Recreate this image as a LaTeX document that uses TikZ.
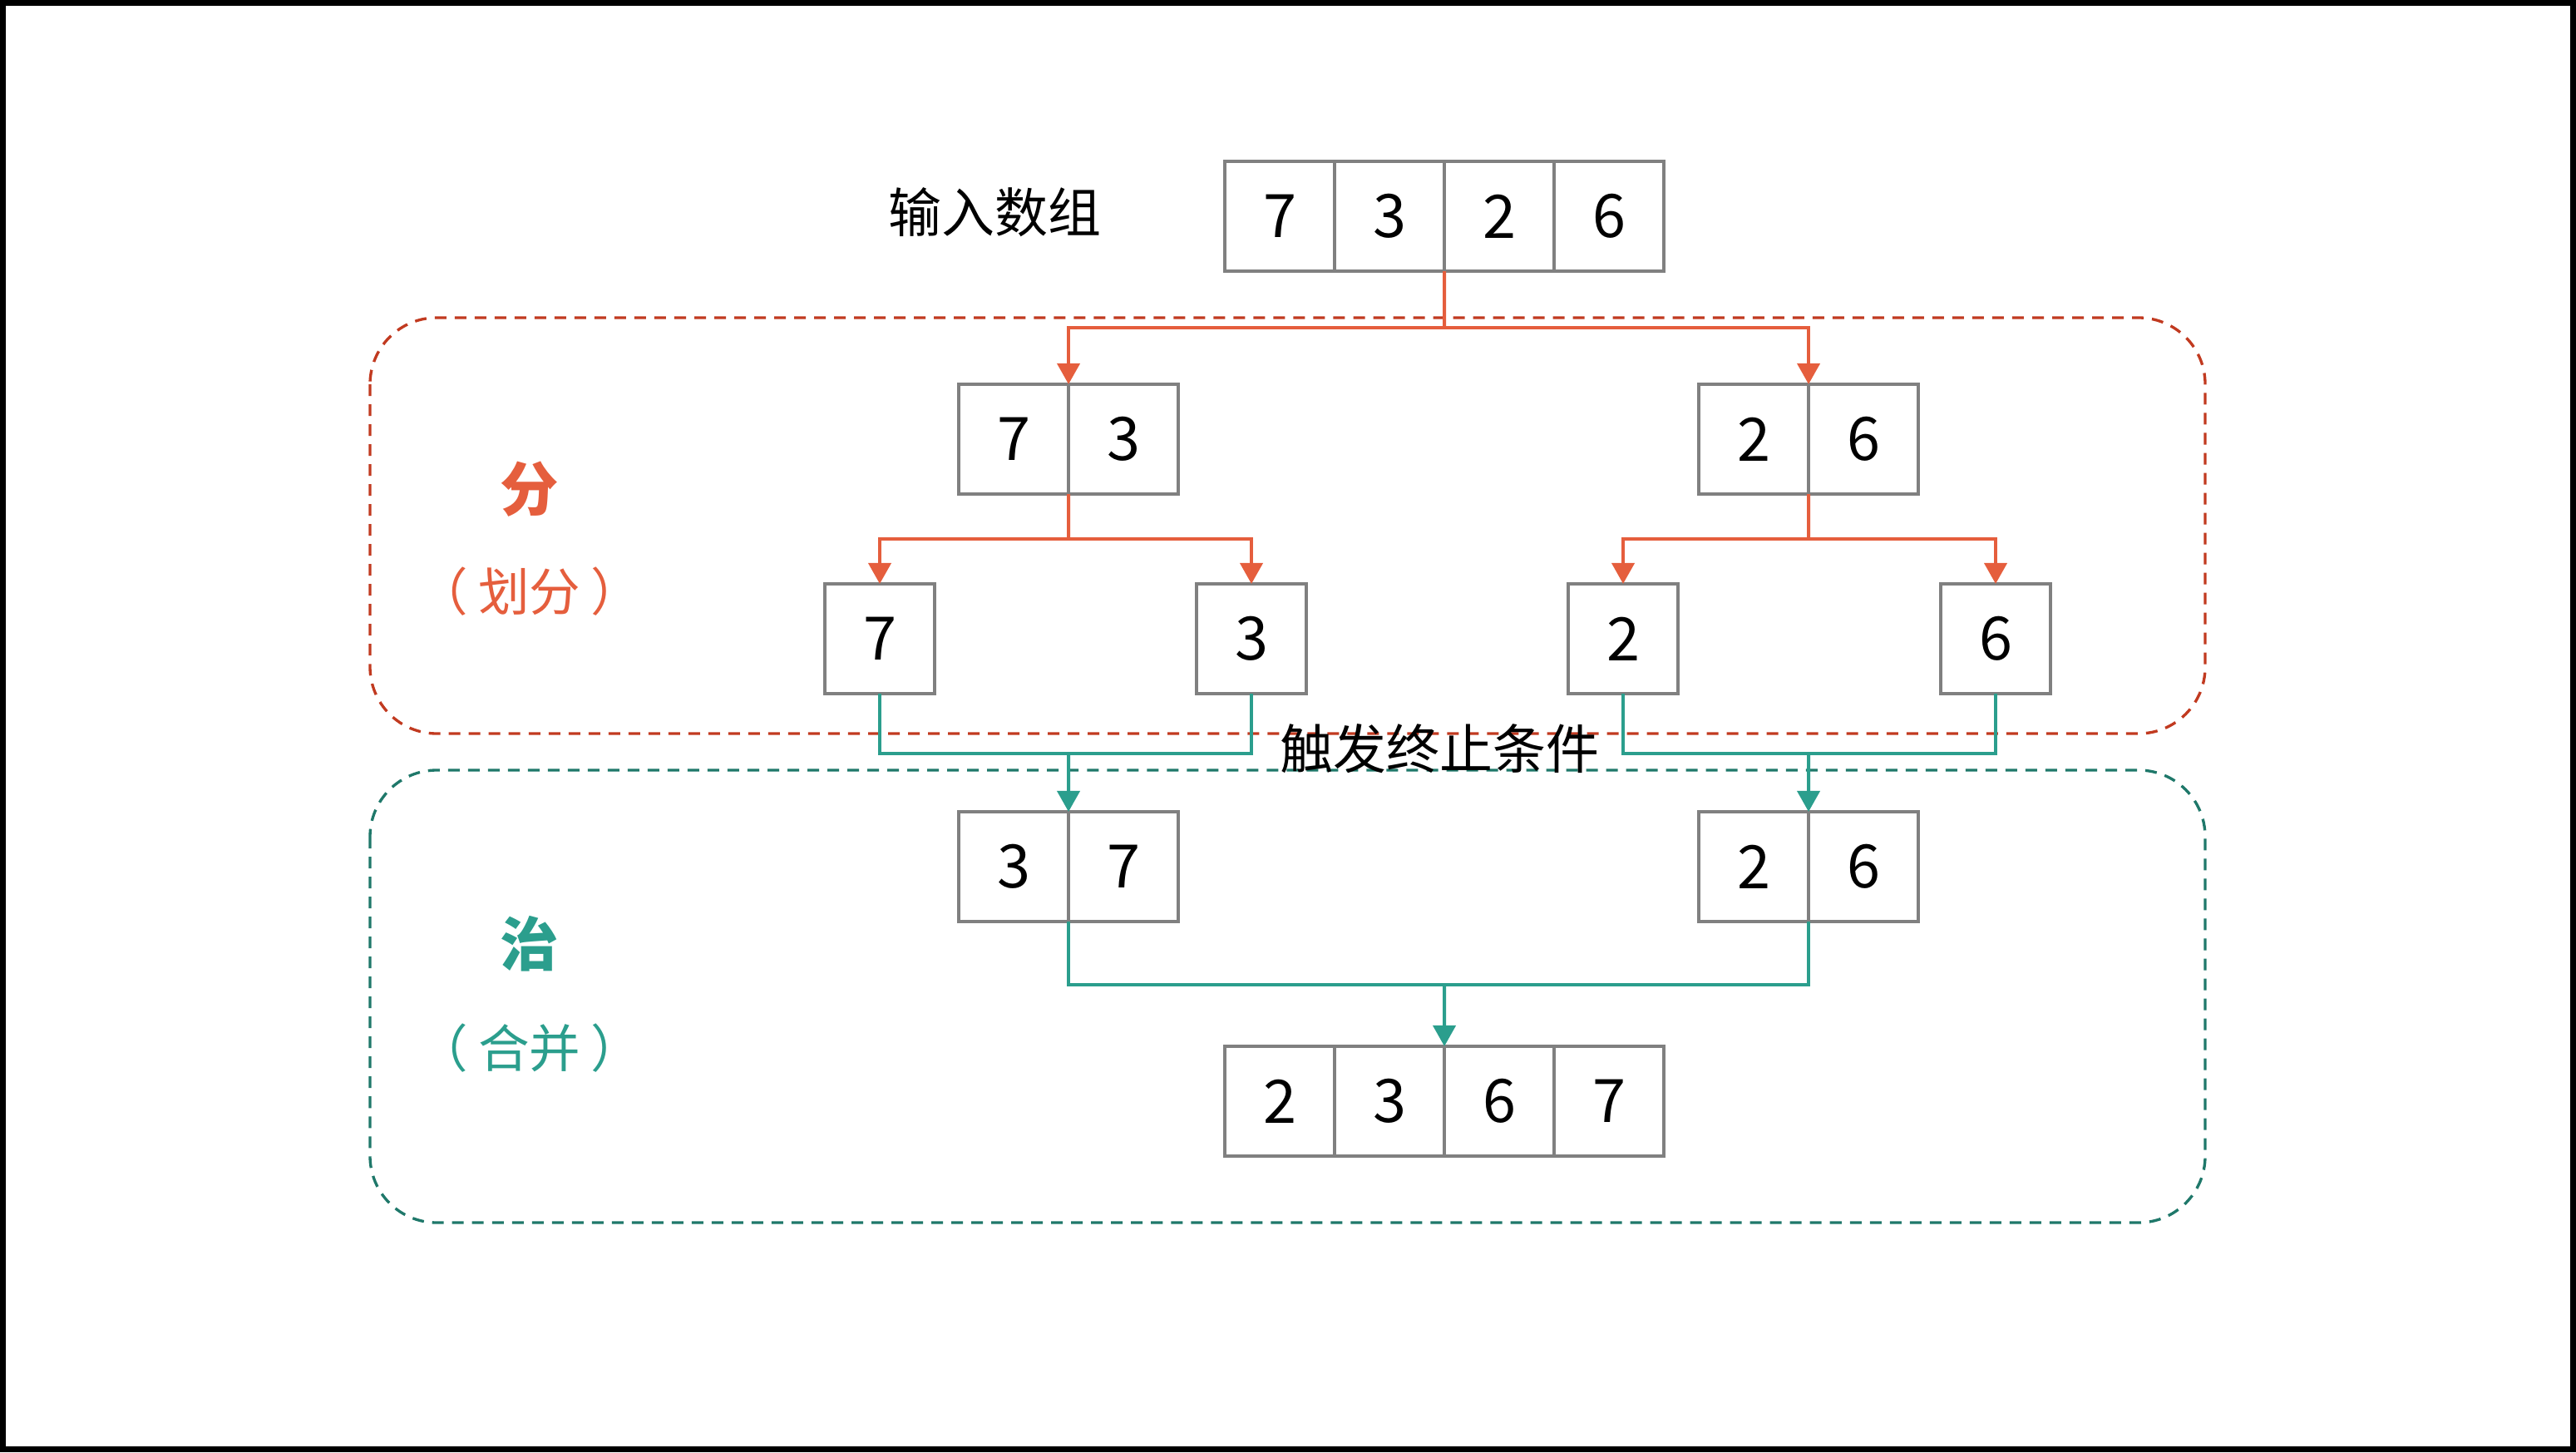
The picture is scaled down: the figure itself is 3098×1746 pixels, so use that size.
\documentclass[tikz,border=0pt]{standalone}
\usepackage{fontspec}
\setmainfont{Noto Sans CJK SC}
\usetikzlibrary{arrows.meta}
\definecolor{redA}{RGB}{229,94,61}
\definecolor{redD}{RGB}{193,58,32}
\definecolor{grnA}{RGB}{43,158,141}
\definecolor{grnD}{RGB}{31,120,106}
\definecolor{boxgray}{RGB}{128,128,128}
\begin{document}
\begin{tikzpicture}[x=0.01cm,y=-0.01cm,
  cell/.style={draw=boxgray, line width=0.95pt, minimum width=1.32cm, minimum height=1.32cm,
    inner sep=0pt, outer sep=0pt, font=\fontsize{20.5pt}{20.5pt}\selectfont},
  redline/.style={draw=redA, line width=1.15pt},
  redarrow/.style={redline, -{Triangle[width=0.27cm,length=0.25cm]}},
  grnline/.style={draw=grnA, line width=1.15pt},
  grnarrow/.style={grnline, -{Triangle[width=0.27cm,length=0.25cm]}},
  region/.style={line width=0.95pt, dash pattern=on 0.14cm off 0.10cm, rounded corners=0.8cm},
  lbl/.style={inner sep=0pt, font=\fontsize{18.2pt}{18.2pt}\selectfont},
  title/.style={inner sep=0pt, font=\fontsize{20pt}{20pt}\selectfont\bfseries},
  sub/.style={inner sep=0pt, font=\fontsize{17.5pt}{17.5pt}\selectfont}
]
\useasboundingbox (0,0) rectangle (3098,1746);
\draw[line width=0.07cm] (3.5,3.5) rectangle (3094.5,1742.5);

% regions
\draw[region, draw=redD] (445,382) rectangle (2652,882);
\draw[region, draw=grnD] (445,926) rectangle (2652,1470);

% labels
\node[lbl] (inlbl) at (1196,255) {输入数组};
\node[title, text=redA] (fen) at (637,588) {分};
\node[sub, text=redA] (fensub) at (637,711) {（\hspace{0.2em}划分\hspace{0.2em}）};
\node[title, text=grnA] (zhi) at (637,1135) {治};
\node[sub, text=grnA] (zhisub) at (637,1260) {（\hspace{0.2em}合并\hspace{0.2em}）};
\node[lbl] (trig) at (1731,900) {触发终止条件};

% top array
\node[cell] (a1) at (1539,260) {7};
\node[cell] (a2) at (1671,260) {3};
\node[cell] (a3) at (1803,260) {2};
\node[cell] (a4) at (1935,260) {6};
% level 1
\node[cell] (b1) at (1219,528) {7};
\node[cell] (b2) at (1351,528) {3};
\node[cell] (c1) at (2109,528) {2};
\node[cell] (c2) at (2241,528) {6};
% level 2
\node[cell] (d1) at (1058,768) {7};
\node[cell] (d2) at (1505,768) {3};
\node[cell] (d3) at (1952,768) {2};
\node[cell] (d4) at (2400,768) {6};
% level 3
\node[cell] (e1) at (1219,1042) {3};
\node[cell] (e2) at (1351,1042) {7};
\node[cell] (f1) at (2109,1042) {2};
\node[cell] (f2) at (2241,1042) {6};
% result
\node[cell] (g1) at (1539,1324) {2};
\node[cell] (g2) at (1671,1324) {3};
\node[cell] (g3) at (1803,1324) {6};
\node[cell] (g4) at (1935,1324) {7};

% junctions
\coordinate (j0) at (1737,394);
\coordinate (j1) at (1285,648);
\coordinate (j2) at (2175,648);
\coordinate (j3) at (1285,906);
\coordinate (j4) at (2175,906);
\coordinate (j5) at (1737,1184);

% divide
\draw[redline] (a2.south east) -- (j0);
\draw[redarrow] (j0) -| (b1.north east);
\draw[redarrow] (j0) -| (c1.north east);
\draw[redline] (b1.south east) -- (j1);
\draw[redarrow] (j1) -| (d1.north);
\draw[redarrow] (j1) -| (d2.north);
\draw[redline] (c1.south east) -- (j2);
\draw[redarrow] (j2) -| (d3.north);
\draw[redarrow] (j2) -| (d4.north);

% merge
\draw[grnline] (d1.south) |- (j3) -| (d2.south);
\draw[grnarrow] (j3) -- (e1.north east);
\draw[grnline] (d3.south) |- (j4) -| (d4.south);
\draw[grnarrow] (j4) -- (f1.north east);
\draw[grnline] (e1.south east) |- (j5) -| (f1.south east);
\draw[grnarrow] (j5) -- (g2.north east);
\end{tikzpicture}
\end{document}
